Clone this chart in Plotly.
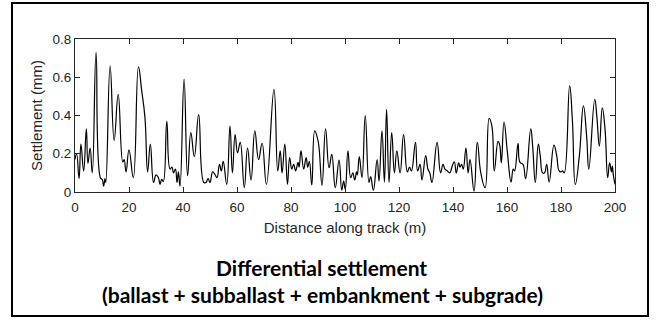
import plotly.graph_objects as go

distance_m = [
    0, 0.6, 1.5, 2.2, 3.2, 4.2, 4.8, 5.6, 6.4, 7.8, 9.4, 10.1, 10.6, 11.1, 11.4,
    13.0, 14.5, 16.0, 17.7, 18.2, 18.9, 20.0, 21.6, 23.5, 24.7, 25.9, 26.9, 27.9,
    29.1, 30.0, 30.9, 31.5, 32.1, 32.7, 34.0, 35.2, 35.9, 36.5, 37.2, 37.8, 38.3,
    38.9, 40.4, 41.7, 42.9, 44.2, 45.8, 47.7, 48.5, 49.3, 50.0, 51.0, 51.9, 52.6,
    53.5, 54.2, 54.9, 56.2, 57.4, 58.3, 59.3, 60.2, 61.2, 62.7, 63.9, 65.2, 66.6,
    68.0, 69.3, 70.9, 73.7, 75.1, 76.0, 76.7, 77.7, 78.7, 79.5, 80.3, 81.0, 81.7,
    82.6, 83.0, 83.7, 84.7, 85.6, 86.2, 86.8, 87.7, 88.8, 89.9, 90.4, 91.5, 92.8,
    94.1, 95.1, 96.4, 97.8, 98.8, 99.5, 100.1, 101.1, 102.1, 102.9, 103.6, 104.3,
    104.6, 105.3, 106.3, 107.5, 108.9, 109.5, 110.5, 111.9, 112.6, 113.7, 114.6,
    115.4, 116.3, 117.3, 118.3, 119.2, 120.4, 121.7, 123.1, 123.9, 124.6, 126.1,
    126.9, 127.8, 128.5, 129.9, 130.7, 131.4, 132.2, 134.1, 135.4, 136.3, 137.0,
    137.9, 138.8, 139.8, 140.5, 141.2, 142.1, 142.6, 143.2, 143.8, 144.8, 145.6,
    146.3, 147.8, 149.0, 150.3, 151.9, 153.4, 154.4, 155.3, 156.7, 157.3, 157.9,
    158.9, 160.1, 161.5, 162.3, 162.8, 164.1, 164.8, 165.9, 166.9, 168.8, 169.5,
    170.5, 171.6, 172.3, 173.2, 173.9, 174.7, 175.6, 177.4, 178.4, 179.3, 180.0,
    180.6, 181.2, 183.2, 184.2, 185.3, 186.8, 188.3, 189.5, 190.3, 192.5, 193.3,
    194.2, 195.3, 196.3, 197.3, 198.0, 198.7, 199.0, 199.4, 200.0,
]
settlement_mm = [
    0.17, 0.20, 0.07, 0.25, 0.11, 0.33, 0.15, 0.23, 0.10, 0.73, 0.075, 0.065, 0.03, 0.07, 0.05,
    0.66, 0.27, 0.51, 0.157, 0.17, 0.105, 0.22, 0.075, 0.655, 0.53, 0.39, 0.105, 0.25,
    0.05, 0.09, 0.075, 0.04, 0.066, 0.055, 0.37, 0.12, 0.13, 0.10, 0.12, 0.05, 0.105,
    0.03, 0.59, 0.085, 0.31, 0.185, 0.405, 0.05, 0.05, 0.07, 0.05, 0.105, 0.09, 0.075,
    0.145, 0.11, 0.16, 0.04, 0.345, 0.10, 0.30, 0.205, 0.26, 0.023, 0.23, 0.063, 0.32,
    0.17, 0.255, 0.04, 0.537, 0.11, 0.215, 0.10, 0.25, 0.04, 0.18, 0.12, 0.145, 0.11,
    0.155, 0.13, 0.215, 0.12, 0.18, 0.13, 0.16, 0.037, 0.32, 0.275, 0.23, 0.035, 0.33,
    0.127, 0.197, 0.023, 0.167, 0.01, 0.057, 0.015, 0.215, 0.075, 0.10, 0.063, 0.105,
    0.09, 0.185, 0.075, 0.40, 0.05, 0.08, 0.01, 0.17, 0.057, 0.32, 0.052,
    0.432, 0.05, 0.31, 0.10, 0.215, 0.10, 0.30, 0.105, 0.13, 0.11, 0.26,
    0.11, 0.145, 0.063, 0.19, 0.12, 0.10, 0.05, 0.26, 0.10, 0.145, 0.12,
    0.11, 0.10, 0.14, 0.157, 0.10, 0.153, 0.13, 0.145, 0.12, 0.23, 0.10,
    0.17, 0.005, 0.26, 0.10, 0.023, 0.385, 0.345, 0.11, 0.265, 0.245, 0.153,
    0.366, 0.215, 0.052, 0.12, 0.11, 0.255, 0.155, 0.145, 0.07, 0.33, 0.24,
    0.05, 0.25, 0.19, 0.10, 0.10, 0.145, 0.052, 0.245, 0.19, 0.11, 0.105,
    0.11, 0.10, 0.555, 0.38, 0.04, 0.19, 0.45, 0.29, 0.12, 0.485, 0.39,
    0.24, 0.44, 0.33, 0.075, 0.153, 0.105, 0.136, 0.087, 0.04,
]

x_ticks = [0, 20, 40, 60, 80, 100, 120, 140, 160, 180, 200]
y_ticks = [0, 0.2, 0.4, 0.6, 0.8]
y_tick_labels = ["0", "0.2", "0.4", "0.6", "0.8"]

W, H = 659, 323
L, R, T, B = 75, 615, 39, 192  # plot area in pixels


def px(xp):
    return (xp - L) / (R - L)


def py(yp):
    return (B - yp) / (B - T)


fig = go.Figure()
fig.add_trace(go.Scatter(
    x=distance_m, y=settlement_mm, mode="lines",
    line=dict(color="black", width=1.2, shape="spline", smoothing=1.3),
    showlegend=False, hoverinfo="skip",
))

axis_common = dict(
    showgrid=False, zeroline=False, showline=True, linecolor="#262626", linewidth=1,
    mirror="ticks", ticks="inside", ticklen=5, tickcolor="#262626", tickwidth=1,
    tickfont=dict(family="Liberation Sans, Arial", size=13.5, color="#262626"),
)

fig.update_layout(
    width=W, height=H,
    margin=dict(l=L, r=W - R, t=T, b=H - B),
    paper_bgcolor="white", plot_bgcolor="white",
    xaxis=dict(range=[0, 200], tickvals=x_ticks, ticklabelstandoff=3,
               title=dict(text="Distance along track (m)", standoff=8,
                          font=dict(family="Liberation Sans, Arial", size=15, color="#262626")),
               **axis_common),
    yaxis=dict(range=[0, 0.8], tickvals=y_ticks, ticktext=y_tick_labels,
               title=dict(text="Settlement (mm)", standoff=6,
                          font=dict(family="Liberation Sans, Arial", size=15, color="#262626")),
               **axis_common),
)

# outer frame
fig.add_shape(type="rect", xref="paper", yref="paper",
              x0=px(12), x1=px(648), y0=py(316), y1=py(3),
              line=dict(color="black", width=2), layer="above")

title_font = dict(family="Lato, Open Sans", size=21, color="black")
fig.add_annotation(text="<b>Differential settlement</b>", xref="paper", yref="paper",
                   x=px(321), y=py(267), showarrow=False, font=title_font,
                   xanchor="center", yanchor="middle")
fig.add_annotation(text="<b>(ballast + subballast + embankment + subgrade)</b>",
                   xref="paper", yref="paper",
                   x=px(322), y=py(294), showarrow=False, font=title_font,
                   xanchor="center", yanchor="middle")

fig.write_html("out.html")
